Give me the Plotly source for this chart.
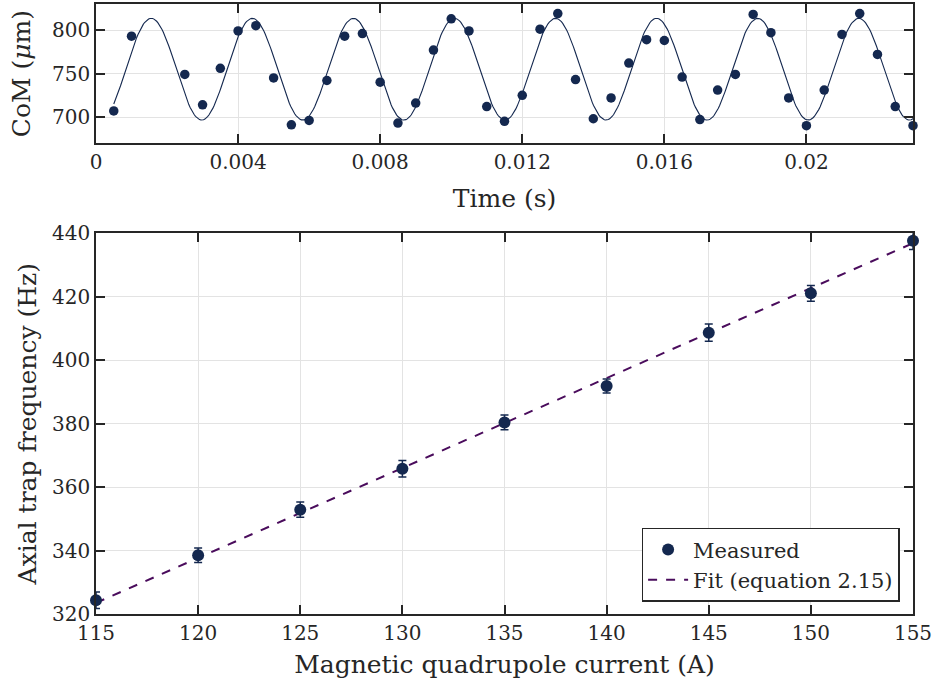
import numpy as np
import plotly.graph_objects as go

# ---- Top panel data: centre-of-mass oscillation ----
time_s = [0.0005, 0.0010, 0.0025, 0.0030, 0.0035, 0.0040, 0.0045, 0.0050, 0.0055, 0.0060,
          0.0065, 0.0070, 0.0075, 0.0080, 0.0085, 0.0090, 0.0095, 0.0100, 0.0105, 0.0110,
          0.0115, 0.0120, 0.0125, 0.0130, 0.0135, 0.0140, 0.0145, 0.0150, 0.0155, 0.0160,
          0.0165, 0.0170, 0.0175, 0.0180, 0.0185, 0.0190, 0.0195, 0.0200, 0.0205, 0.0210,
          0.0215, 0.0220, 0.0225, 0.0230]
com_um = [707, 793, 749, 714, 756, 799, 805, 745, 691, 696,
          742, 793, 796, 740, 693, 716, 777, 813, 799, 712,
          695, 725, 801, 819, 743, 698, 722, 762, 789, 788,
          746, 697, 731, 749, 818, 797, 722, 690, 731, 795,
          819, 772, 712, 690]

# sinusoidal fit parameters
fit_offset = 755.0
fit_amp = 58.5
fit_freq = 351.4
fit_tpeak = 0.001553
fit_t_range = [0.0005, 0.0231]

# ---- Bottom panel data: axial trap frequency ----
current_A = [115, 120, 125, 130, 135, 140, 145, 150, 155]
freq_Hz = [324.3, 338.5, 352.9, 365.8, 380.4, 391.9, 408.7, 421.1, 437.7]
freq_err = [2.6, 2.3, 2.4, 2.6, 2.3, 2.2, 2.7, 2.5, 2.8]
lin_fit_x = [115, 155]
lin_fit_y = [323.5, 436.9]

top_x_ticks = [0, 0.004, 0.008, 0.012, 0.016, 0.02]
top_x_labels = ["0", "0.004", "0.008", "0.012", "0.016", "0.02"]
top_y_ticks = [700, 750, 800]
bot_x_ticks = [115, 120, 125, 130, 135, 140, 145, 150, 155]
bot_y_ticks = [320, 340, 360, 380, 400, 420, 440]

NAVY = "#14284f"
PURPLE = "#4a0c5c"
AX = "#262626"
GRID = "#e3e3e3"
FONT = "DejaVu Serif"

t_fine = np.linspace(fit_t_range[0], fit_t_range[1], 600)
y_fine = fit_offset + fit_amp * np.cos(2 * np.pi * fit_freq * (t_fine - fit_tpeak))

fig = go.Figure()
fig.add_trace(go.Scatter(x=t_fine, y=y_fine, mode="lines", line=dict(color=NAVY, width=1.1),
                         xaxis="x", yaxis="y", showlegend=False, hoverinfo="skip"))
fig.add_trace(go.Scatter(x=time_s, y=com_um, mode="markers", marker=dict(color=NAVY, size=9.5),
                         xaxis="x", yaxis="y", showlegend=False, cliponaxis=False))

fig.add_trace(go.Scatter(x=lin_fit_x, y=lin_fit_y, mode="lines", name="Fit (equation 2.15)",
                         line=dict(color=PURPLE, width=2, dash="dash"),
                         xaxis="x2", yaxis="y2"))
fig.add_trace(go.Scatter(x=current_A, y=freq_Hz, mode="markers", name="Measured",
                         marker=dict(color=NAVY, size=12),
                         error_y=dict(type="data", array=freq_err, color=NAVY, thickness=1.5, width=4),
                         xaxis="x2", yaxis="y2", cliponaxis=False))

axis_common = dict(showline=True, linecolor=AX, linewidth=1.5, mirror="ticks",
                   ticks="inside", ticklen=9, tickwidth=1.5, tickcolor=AX,
                   showgrid=True, gridcolor=GRID, gridwidth=1.3, zeroline=False,
                   automargin=False,
                   tickfont=dict(family=FONT, size=20, color=AX))
xt_font = dict(family=FONT, size=25, color=AX)
yt_font = dict(family=FONT, size=25, color=AX)

fig.update_layout(
    width=936, height=693,
    margin=dict(l=96, r=23, t=4, b=79),
    paper_bgcolor="white", plot_bgcolor="white",
    xaxis=dict(domain=[0, 1], anchor="y", range=[0, 0.023], tickvals=top_x_ticks,
               ticktext=top_x_labels, title=dict(text="Time (s)", font=xt_font, standoff=17),
               **axis_common),
    yaxis=dict(domain=[0.772, 1.0], anchor="x", range=[670, 830], tickvals=top_y_ticks,
               title=dict(text="CoM (<i>μ</i>m)", font=yt_font, standoff=14), **axis_common),
    xaxis2=dict(domain=[0, 1], anchor="y2", range=[115, 155], tickvals=bot_x_ticks,
                title=dict(text="Magnetic quadrupole current (A)", font=xt_font, standoff=12),
                **axis_common),
    yaxis2=dict(domain=[0, 0.624], anchor="x2", range=[320, 440], tickvals=bot_y_ticks,
                title=dict(text="Axial trap frequency (Hz)", font=yt_font, standoff=8),
                **axis_common),
    legend=dict(x=0.9836, y=0.02, xanchor="right", yanchor="bottom",
                bgcolor="white", bordercolor=AX, borderwidth=1.5,
                font=dict(family=FONT, size=21, color=AX), traceorder="reversed",
                tracegroupgap=0, itemwidth=40),
)

fig.write_html("out.html")
